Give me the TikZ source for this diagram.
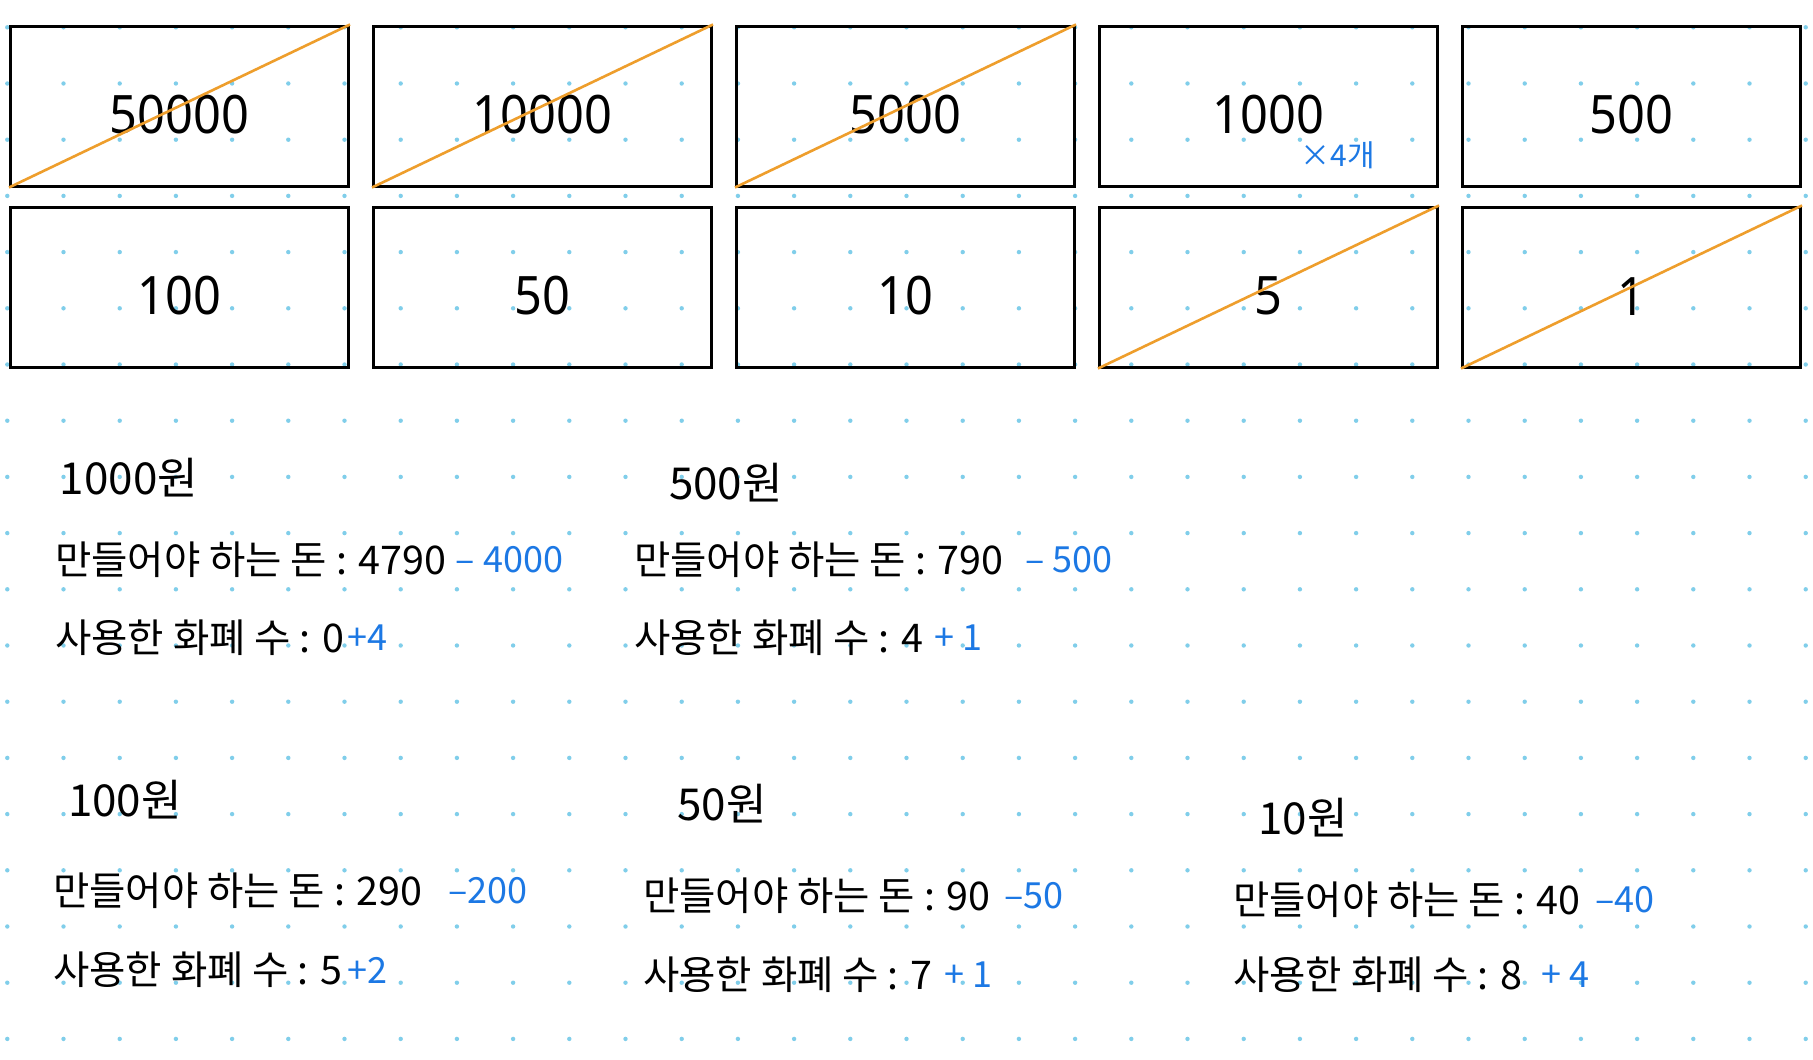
\documentclass[tikz,border=0pt]{standalone}
\usepackage{fontspec}
\setmainfont{Noto Sans CJK KR}
\newfontfamily\numfont[FakeStretch=0.92]{Noto Sans}
\usetikzlibrary{positioning}
\definecolor{penblue}{RGB}{28,120,228}
\definecolor{strikeorange}{RGB}{238,158,44}
\definecolor{griddot}{RGB}{128,206,234}

\begin{document}
\begin{tikzpicture}[x=1pt,y=-1pt,
  node distance=18pt and 22pt,
  coin/.style={draw,line width=3pt,minimum width=338pt,minimum height=160pt,
               inner sep=0pt,font=\numfont\fontsize{53}{53}\selectfont,text height=56pt},
  cross/.style={strikeorange,line width=2.6pt},
  memo/.style={anchor=west,inner sep=0pt,font=\fontsize{39.5}{39.5}\selectfont},
  head/.style={inner sep=0pt,font=\fontsize{44}{44}\selectfont},
  pen/.style={penblue,inner sep=0pt,font=\fontsize{36}{36}\selectfont}
]
\fill[white] (0,0) rectangle (1813,1060);
\useasboundingbox (0,0) rectangle (1813,1060);
\foreach \i in {0,...,32}
  \foreach \j in {0,...,18}
    \fill[griddot] (7.3+56.2*\i,27.3+56.2*\j) circle (2.2pt);

% coins and notes
\node[coin] (b50000) at (179.5,106) {50000};
\node[coin,right=of b50000] (b10000) {10000};
\node[coin,right=of b10000] (b5000) {5000};
\node[coin,right=of b5000] (b1000) {1000};
\node[coin,right=of b1000] (b500) {500};
\node[coin,below=of b50000] (b100) {100};
\node[coin,right=of b100] (b50) {50};
\node[coin,right=of b50] (b10) {10};
\node[coin,right=of b10] (b5) {5};
\node[coin,right=of b5] (b1) {1};

\foreach \b in {b50000,b10000,b5000,b5,b1}
  \draw[cross] (\b.south west) -- (\b.north east);

\node[pen,font=\fontsize{30}{30}\selectfont] (times) at (1338,155) {×4개};

% 1000
\node[head] (h1000) at (129,478) {1000원};
\node[memo] (m1000) at (55,560) {만들어야 하는 돈 : 4790};
\node[pen,right=9pt of m1000] (p1000) {– 4000};
\node[memo] (c1000) at (55,638) {사용한 화폐 수 : 0};
\node[pen,right=3pt of c1000] (q1000) {+4};

% 500
\node[head] (h500) at (726,483) {500원};
\node[memo] (m500) at (634,560) {만들어야 하는 돈 : 790};
\node[pen,right=21pt of m500] (p500) {– 500};
\node[memo] (c500) at (634,638) {사용한 화폐 수 : 4};
\node[pen,right=11pt of c500] (q500) {+ 1};

% 100
\node[head] (h100) at (125,800) {100원};
\node[memo] (m100) at (53,891) {만들어야 하는 돈 : 290};
\node[pen,right=25pt of m100] (p100) {–200};
\node[memo] (c100) at (53,970) {사용한 화폐 수 : 5};
\node[pen,right=5pt of c100] (q100) {+2};

% 50
\node[head] (h50) at (722,804) {50원};
\node[memo] (m50) at (643,896) {만들어야 하는 돈 : 90};
\node[pen,right=13pt of m50] (p50) {–50};
\node[memo] (c50) at (643,975) {사용한 화폐 수 : 7};
\node[pen,right=12pt of c50] (q50) {+ 1};

% 10
\node[head] (h10) at (1303,818) {10원};
\node[memo] (m10) at (1233,900) {만들어야 하는 돈 : 40};
\node[pen,right=14pt of m10] (p10) {–40};
\node[memo] (c10) at (1233,975) {사용한 화폐 수 : 8};
\node[pen,right=19pt of c10] (q10) {+ 4};
\end{tikzpicture}
\end{document}
